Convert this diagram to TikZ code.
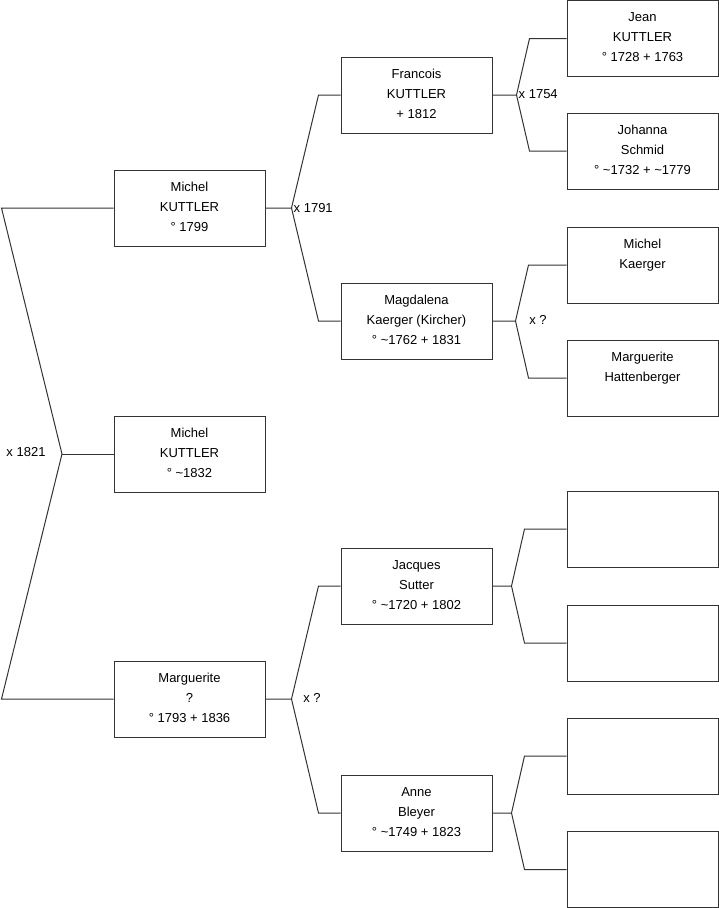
\documentclass[tikz,border=0pt]{standalone}
\usepackage{fontspec}
\setmainfont{Liberation Sans}
\usetikzlibrary{calc}
\newcommand\ptxt[1]{\begin{minipage}[c][76pt][t]{151pt}\centering\fontsize{13}{20}\selectfont\rule{0pt}{21pt}#1\end{minipage}}
\tikzset{
  pbox/.style={draw=black!80, line width=1pt, inner sep=0pt, minimum width=151pt, minimum height=76pt},
  link/.style={draw=black!80, line width=1pt},
  mlabel/.style={font=\fontsize{13}{16}\selectfont, inner sep=0pt}
}
\begin{document}
\begin{tikzpicture}[x=1pt,y=-1pt]
\useasboundingbox (0,0) rectangle (719,908);
% level 1
\node[pbox] (m1) at (189.5,208) {\ptxt{Michel\\KUTTLER\\° 1799}};
\node[pbox] (m2) at (189.5,454) {\ptxt{Michel\\KUTTLER\\° \textasciitilde1832}};
\node[pbox] (mg) at (189.5,699) {\ptxt{Marguerite\\?\\° 1793 + 1836}};
% level 2
\node[pbox] (fr) at (416.5,95) {\ptxt{Francois\\KUTTLER\\+ 1812}};
\node[pbox] (mk) at (416.5,321) {\ptxt{Magdalena\\Kaerger (Kircher)\\° \textasciitilde1762 + 1831}};
\node[pbox] (js) at (416.5,586) {\ptxt{Jacques\\Sutter\\° \textasciitilde1720 + 1802}};
\node[pbox] (ab) at (416.5,813) {\ptxt{Anne\\Bleyer\\° \textasciitilde1749 + 1823}};
% level 3
\node[pbox] (jk) at (642.5,38.5) {\ptxt{Jean\\KUTTLER\\° 1728 + 1763}};
\node[pbox] (jo) at (642.5,151) {\ptxt{Johanna\\Schmid\\° \textasciitilde1732 + \textasciitilde1779}};
\node[pbox] (mka) at (642.5,265) {\ptxt{Michel\\Kaerger}};
\node[pbox] (mh) at (642.5,378) {\ptxt{Marguerite\\Hattenberger}};
\node[pbox] (e1) at (642.5,529) {\ptxt{}};
\node[pbox] (e2) at (642.5,643) {\ptxt{}};
\node[pbox] (e3) at (642.5,756) {\ptxt{}};
\node[pbox] (e4) at (642.5,869.5) {\ptxt{}};
% fork 0
\coordinate (a0) at (62,454);
\draw[link] (m1.west) -- ($(m1.west)+(-112,0)$) -- (a0) -- ($(mg.west)+(-112,0)$) -- (mg.west);
\draw[link] (a0) -- (m2.west);
\node[mlabel] (l0) at (26,452) {x 1821};
% fork 1
\coordinate (a1) at ($(m1.east)+(26,0)$);
\draw[link] (m1.east) -- (a1) -- ($(fr.west)+(-22,0)$) -- (fr.west);
\draw[link] (a1) -- ($(mk.west)+(-22,0)$) -- (mk.west);
\node[mlabel, anchor=west] (l1) at ($(a1)+(2,0)$) {x 1791};
% fork 2
\coordinate (a2) at ($(fr.east)+(24,0)$);
\draw[link] (fr.east) -- (a2) -- ($(jk.west)+(-37,0)$) -- (jk.west);
\draw[link] (a2) -- ($(jo.west)+(-37,0)$) -- (jo.west);
\node[mlabel, anchor=west] (l2) at ($(a2)+(2,-1)$) {x 1754};
% fork 3
\coordinate (a3) at ($(mk.east)+(23,0)$);
\draw[link] (mk.east) -- (a3) -- ($(mka.west)+(-38,0)$) -- (mka.west);
\draw[link] (a3) -- ($(mh.west)+(-38,0)$) -- (mh.west);
\node[mlabel] (l3) at (538,320) {x ?};
% fork 4
\coordinate (a4) at ($(mg.east)+(26,0)$);
\draw[link] (mg.east) -- (a4) -- ($(js.west)+(-22,0)$) -- (js.west);
\draw[link] (a4) -- ($(ab.west)+(-22,0)$) -- (ab.west);
\node[mlabel] (l4) at (312,698) {x ?};
% fork 5
\coordinate (a5) at ($(js.east)+(19,0)$);
\draw[link] (js.east) -- (a5) -- ($(e1.west)+(-42,0)$) -- (e1.west);
\draw[link] (a5) -- ($(e2.west)+(-42,0)$) -- (e2.west);
% fork 6
\coordinate (a6) at ($(ab.east)+(19,0)$);
\draw[link] (ab.east) -- (a6) -- ($(e3.west)+(-42,0)$) -- (e3.west);
\draw[link] (a6) -- ($(e4.west)+(-42,0)$) -- (e4.west);
\end{tikzpicture}
\end{document}
